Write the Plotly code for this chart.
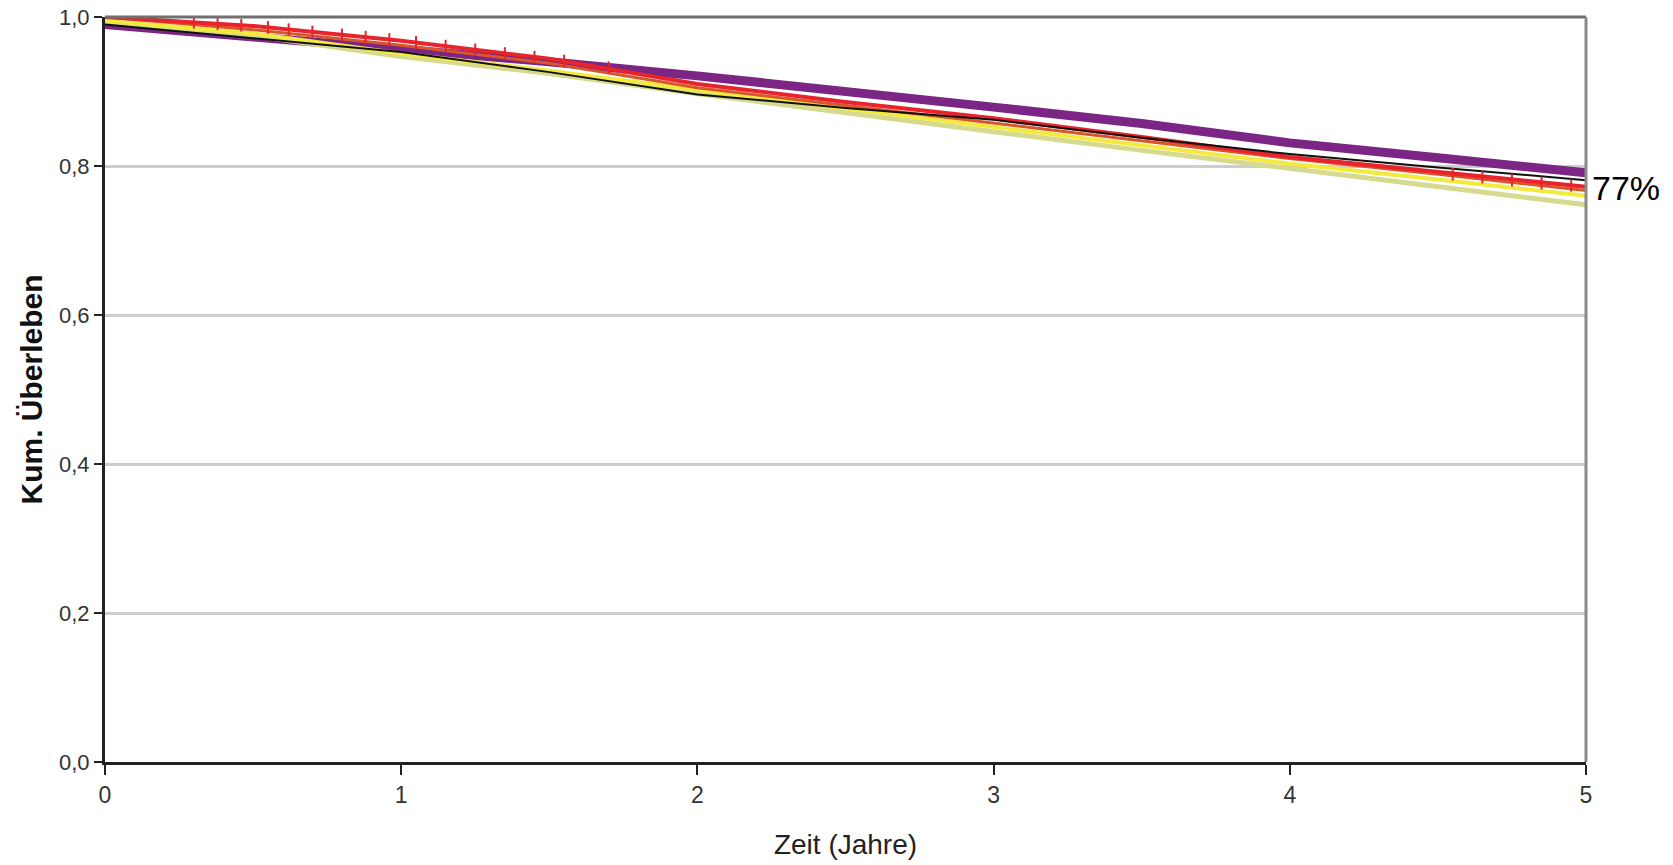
import plotly.graph_objects as go

# Time in years
time_years = [0, 0.5, 1, 1.5, 2, 2.5, 3, 3.5, 4, 4.5, 5]

# Kaplan-Meier cumulative survival per group
surv_purple = [0.990, 0.974, 0.956, 0.940, 0.921, 0.901, 0.879, 0.857, 0.831, 0.811, 0.791]
surv_pale = [0.993, 0.975, 0.947, 0.924, 0.897, 0.871, 0.846, 0.821, 0.797, 0.772, 0.748]
surv_yellow = [0.995, 0.978, 0.951, 0.928, 0.902, 0.877, 0.852, 0.828, 0.803, 0.782, 0.760]
surv_orange = [1.000, 0.983, 0.962, 0.938, 0.905, 0.881, 0.857, 0.834, 0.810, 0.789, 0.767]
surv_red = [1.000, 0.988, 0.968, 0.944, 0.910, 0.886, 0.864, 0.839, 0.812, 0.792, 0.772]
surv_black = [0.990, 0.972, 0.953, 0.926, 0.896, 0.878, 0.862, 0.838, 0.816, 0.798, 0.781]

censor_t = [0.30, 0.38, 0.46, 0.55, 0.62, 0.70, 0.80, 0.88, 0.96, 1.05, 1.15, 1.25, 1.35, 1.45, 1.55, 1.70, 4.55, 4.65, 4.75, 4.85, 4.95]
censor_s = [0.993, 0.991, 0.989, 0.986, 0.983, 0.980, 0.976, 0.973, 0.970, 0.966, 0.961, 0.956, 0.951, 0.946, 0.941, 0.932, 0.789, 0.785, 0.781, 0.777, 0.774]

y_ticks = [0, 0.2, 0.4, 0.6, 0.8, 1.0]
x_ticks = [0, 1, 2, 3, 4, 5]
end_label = "77%"
end_value = 0.77

FONT = "Liberation Sans, Arial, sans-serif"

series = [
    (surv_purple, "#7B2585", 9),
    (surv_pale, "#D5DA8E", 5),
    (surv_yellow, "#F2EA3C", 4),
    (surv_orange, "#D9562A", 3),
    (surv_red, "#E8232B", 4),
    (surv_black, "#111111", 2),
]

fig = go.Figure()
for vals, col, w in series:
    fig.add_trace(go.Scatter(
        x=time_years, y=vals, mode="lines",
        line=dict(color=col, width=w),
        showlegend=False, hoverinfo="skip",
    ))

fig.add_trace(go.Scatter(
    x=censor_t, y=censor_s, mode="markers",
    marker=dict(symbol="line-ns", size=9, line=dict(color="#E8232B", width=2)),
    showlegend=False, hoverinfo="skip",
))

fig.add_annotation(
    x=5, y=end_value, xref="x", yref="y", text=end_label,
    showarrow=False, xanchor="left", yanchor="middle", xshift=4,
    font=dict(family=FONT, size=34, color="black"),
)

# top and right frame lines (gray)
fig.add_shape(type="line", xref="paper", yref="paper", x0=0, x1=1, y0=1, y1=1,
              line=dict(color="#707070", width=3))
fig.add_shape(type="line", xref="paper", yref="paper", x0=1, x1=1, y0=0, y1=1,
              line=dict(color="#8A8A8A", width=3))

fig.update_layout(
    width=1673, height=865,
    margin=dict(l=105, r=87, t=17, b=103, autoexpand=False),
    paper_bgcolor="white", plot_bgcolor="white",
    separators=",.",
    font=dict(family=FONT, color="#222222"),
    xaxis=dict(
        range=[0, 5], tickvals=x_ticks, ticks="outside", ticklen=10,
        tickwidth=2, tickcolor="#222222", showgrid=False, zeroline=False,
        showline=True, linecolor="#222222", linewidth=3, automargin=False,
        tickfont=dict(family=FONT, size=23, color="#333333"),
        title=dict(text="Zeit (Jahre)", font=dict(family=FONT, size=28, color="#222222"), standoff=28),
    ),
    yaxis=dict(
        range=[0, 1], tickvals=y_ticks, tickformat=".1f", ticks="outside",
        ticklen=8, tickwidth=2, tickcolor="#222222", automargin=False,
        showgrid=True, gridcolor="#CDCDCD", gridwidth=3, zeroline=False,
        showline=True, linecolor="#222222", linewidth=3,
        tickfont=dict(family=FONT, size=22, color="#333333"),
        title=dict(text="<b>Kum. Überleben</b>", font=dict(family=FONT, size=30, color="#111111"), standoff=8),
    ),
)

fig.write_html("out.html", config={"displayModeBar": False},
               post_script="document.body.style.margin='0';")
